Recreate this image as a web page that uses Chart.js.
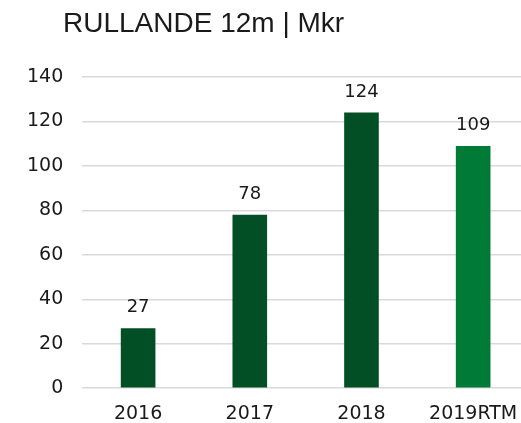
<!DOCTYPE html>
<html>
<head>
<meta charset="utf-8">
<script src="https://cdn.jsdelivr.net/npm/chart.js@4.4.0/dist/chart.umd.min.js"></script>
<style>
    html, body { margin: 0; padding: 0; background: #fff; overflow: hidden; }
    /* the plot runs a little past the right edge of the window, as in the source */
    #wrap { width: 529px; height: 423px; position: relative; }
</style>
</head>
<body>
<div id="wrap"><canvas id="chart"></canvas></div>
<script>
// --- Chart data ---
const titleText = 'RULLANDE 12m | Mkr';
const categories = ['2016', '2017', '2018', '2019RTM'];
const values = [27, 78, 124, 109];
const barColors = ['#024f25', '#024f25', '#024f25', '#007a37'];
const yTicks = [0, 20, 40, 60, 80, 100, 120, 140];

const titleFont = "'Liberation Sans', Arial, sans-serif";
const tickFont = "'DejaVu Sans', sans-serif";
const textColor = '#1a1a1a';

// Title drawn in the top left corner
const titlePlugin = {
    id: 'topTitle',
    afterDraw(chart) {
        const ctx = chart.ctx;
        ctx.save();
        ctx.font = '28px ' + titleFont;
        ctx.fillStyle = textColor;
        ctx.textAlign = 'left';
        ctx.textBaseline = 'alphabetic';
        ctx.fillText(titleText, 63, 32);
        ctx.restore();
    }
};

// Value labels above each bar
const valueLabels = {
    id: 'valueLabels',
    afterDatasetsDraw(chart) {
        const ctx = chart.ctx;
        const meta = chart.getDatasetMeta(0);
        ctx.save();
        ctx.font = '18px ' + tickFont;
        ctx.fillStyle = textColor;
        ctx.textAlign = 'center';
        ctx.textBaseline = 'alphabetic';
        meta.data.forEach((bar, i) => {
            ctx.fillText(String(values[i]), bar.x, bar.y - 16);
        });
        ctx.restore();
    }
};

new Chart(document.getElementById('chart'), {
    type: 'bar',
    data: {
        labels: categories,
        datasets: [{
            data: values,
            backgroundColor: barColors,
            categoryPercentage: 1,
            barPercentage: 0.31
        }]
    },
    options: {
        responsive: true,
        maintainAspectRatio: false,
        animation: false,
        layout: {
            padding: { top: 77, left: 8, right: 0, bottom: -16 }
        },
        plugins: {
            legend: { display: false },
            tooltip: { enabled: false }
        },
        scales: {
            x: {
                grid: { display: false, drawTicks: false },
                border: { display: false },
                ticks: {
                    color: textColor,
                    font: { size: 19, family: tickFont },
                    padding: 14,
                    maxRotation: 0
                },
                afterFit: axis => {
                    axis.paddingRight = 0;
                }
            },
            y: {
                min: 0,
                max: 140,
                afterBuildTicks: axis => {
                    axis.ticks = yTicks.map(v => ({ value: v }));
                },
                grid: {
                    color: '#d9d9d9',
                    lineWidth: 1.5,
                    drawTicks: false
                },
                border: { display: false },
                ticks: {
                    color: textColor,
                    font: { size: 19, family: tickFont },
                    padding: 19
                }
            }
        }
    },
    plugins: [titlePlugin, valueLabels]
});
</script>
</body>
</html>
